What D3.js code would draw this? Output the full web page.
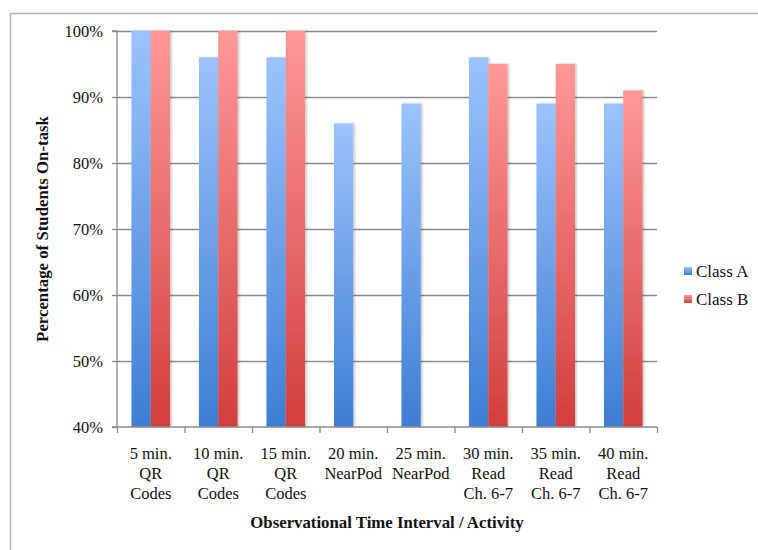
<!DOCTYPE html>
<html>
<head>
<meta charset="utf-8">
<script src="https://cdn.jsdelivr.net/npm/d3@7"></script>
<style>
  body { margin: 0; background: #fff; }
  svg text { font-family: "Liberation Serif", "Times New Roman", serif; }
</style>
</head>
<body>
<div id="chart"></div>
<script>
var categories = [
  ["5 min.", "QR", "Codes"],
  ["10 min.", "QR", "Codes"],
  ["15 min.", "QR", "Codes"],
  ["20 min.", "NearPod"],
  ["25 min.", "NearPod"],
  ["30 min.", "Read", "Ch. 6-7"],
  ["35 min.", "Read", "Ch. 6-7"],
  ["40 min.", "Read", "Ch. 6-7"]
];
var seriesNames = ["Class A", "Class B"];
var classA = [100, 96, 96, 86, 89, 96, 89, 89];
var classB = [100, 100, 100, null, null, 95, 95, 91];
var yTicks = [40, 50, 60, 70, 80, 90, 100];

var W = 758, H = 550;
var margin = {left: 117, top: 31, right: 101, bottom: 123},
    width = W - margin.left - margin.right,
    height = H - margin.top - margin.bottom;

var svg = d3.select("#chart").append("svg")
    .attr("width", W).attr("height", H);

// outer frame
svg.append("path")
    .attr("d", "M10.5," + H + "V13.5H" + W)
    .attr("fill", "none").attr("stroke", "#b3b3b3").attr("stroke-width", 1.5);

var defs = svg.append("defs");
var grads = [["gA", "#9cc3fc", "#3d7ed4"], ["gB", "#ff9898", "#d23e3e"]];
grads.forEach(function (g) {
  var lg = defs.append("linearGradient").attr("id", g[0])
      .attr("x1", 0).attr("y1", 0).attr("x2", 0).attr("y2", 1);
  lg.append("stop").attr("offset", "0%").attr("stop-color", g[1]);
  lg.append("stop").attr("offset", "100%").attr("stop-color", g[2]);
});
var shadow = defs.append("filter").attr("id", "sh")
    .attr("x", "-30%").attr("y", "-5%").attr("width", "160%").attr("height", "110%");
shadow.append("feDropShadow").attr("dx", 1.5).attr("dy", 0).attr("stdDeviation", 1.2)
    .attr("flood-color", "#000").attr("flood-opacity", 0.25);

var g = svg.append("g").attr("transform", "translate(" + margin.left + "," + margin.top + ")");

var x = d3.scaleBand().domain(d3.range(categories.length)).range([0, width]);
var xs = d3.scaleBand().domain([0, 1]).range([0, x.bandwidth()]).paddingInner(0).paddingOuter(0.75);
var y = d3.scaleLinear().domain([40, 100]).range([height, 0]);

// gridlines
g.append("g").selectAll("line").data(yTicks.slice(1)).enter().append("line")
    .attr("x1", 0).attr("x2", width)
    .attr("y1", function (d) { return Math.round(y(d)) + 0.5; })
    .attr("y2", function (d) { return Math.round(y(d)) + 0.5; })
    .attr("stroke", "#8c8c8c").attr("stroke-width", 1.3);

// bars
var groups = g.append("g").selectAll("g").data(categories).enter().append("g")
    .attr("transform", function (d, i) { return "translate(" + x(i) + ",0)"; });
groups.each(function (d, i) {
  var sel = d3.select(this);
  [classA[i], classB[i]].forEach(function (v, j) {
    if (v == null) return;
    sel.append("rect")
      .attr("x", xs(j))
      .attr("y", y(v))
      .attr("width", xs.bandwidth())
      .attr("height", height - y(v))
      .attr("fill", "url(#" + grads[j][0] + ")")
      .attr("filter", "url(#sh)");
  });
});

// y axis
var yAxis = g.append("g")
    .call(d3.axisLeft(y).tickValues(yTicks).tickSize(5).tickPadding(9)
      .tickFormat(function (d) { return d + "%"; }));
yAxis.attr("font-family", null);
yAxis.select(".domain").attr("stroke", "#8c8c8c").attr("stroke-width", 1.3).attr("d", "M-5," + height + "H0V0H-5");
yAxis.selectAll(".tick line").attr("stroke", "#8c8c8c").attr("stroke-width", 1.3);
yAxis.selectAll(".tick text").attr("font-size", 16.5).attr("fill", "#111");

// x axis
var xAxis = g.append("g").attr("transform", "translate(0," + height + ")")
    .call(d3.axisBottom(d3.scaleLinear().domain([0, categories.length]).range([0, width]))
      .tickValues(d3.range(categories.length + 1)).tickSize(6).tickFormat(""));
xAxis.select(".domain").attr("stroke", "#8c8c8c").attr("stroke-width", 1.3).attr("d", "M0,0H" + width);
xAxis.selectAll(".tick line").attr("stroke", "#8c8c8c").attr("stroke-width", 1.3);

var labels = g.append("g").attr("transform", "translate(0," + height + ")");
labels.selectAll("text").data(categories).enter().append("text")
    .attr("x", function (d, i) { return x(i) + x.bandwidth() / 2; })
    .attr("y", 32)
    .attr("text-anchor", "middle")
    .attr("font-size", 16.5).attr("fill", "#111")
    .each(function (d) {
      var t = d3.select(this);
      d.forEach(function (line, k) {
        t.append("tspan").attr("x", t.attr("x")).attr("dy", k === 0 ? 0 : 20).text(line);
      });
    });

// axis titles
svg.append("text")
    .attr("x", margin.left + width / 2).attr("y", 528)
    .attr("text-anchor", "middle").attr("font-size", 16.8).attr("font-weight", "bold").attr("fill", "#111")
    .text("Observational Time Interval / Activity");
svg.append("text")
    .attr("transform", "translate(48," + (margin.top + height / 2) + ") rotate(-90)")
    .attr("text-anchor", "middle").attr("font-size", 16.8).attr("font-weight", "bold").attr("fill", "#111")
    .text("Percentage of Students On-task");

// legend
var legend = svg.append("g").attr("transform", "translate(684,267)");
seriesNames.forEach(function (s, j) {
  var row = legend.append("g").attr("transform", "translate(0," + j * 28 + ")");
  row.append("rect").attr("width", 8).attr("height", 8).attr("fill", "url(#" + grads[j][0] + ")");
  row.append("text").attr("x", 12).attr("y", 10).attr("font-size", 17).attr("fill", "#111").text(s);
});
</script>
</body>
</html>
